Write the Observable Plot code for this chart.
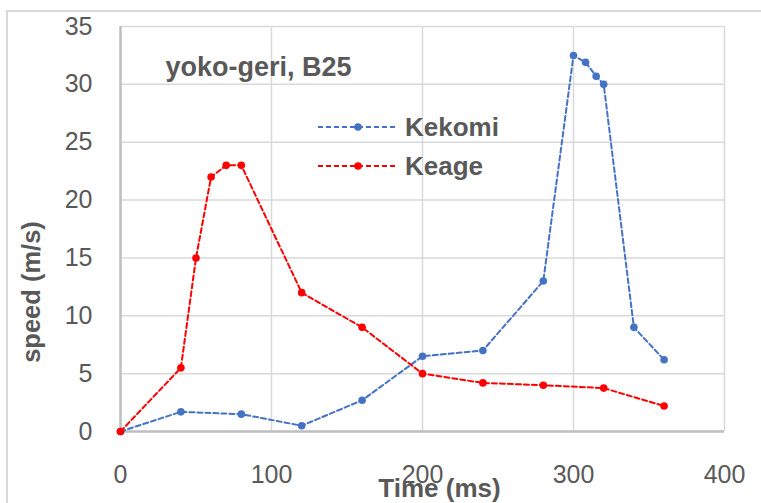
<!DOCTYPE html>
<html>
<head>
<meta charset="utf-8">
<script src="https://cdn.jsdelivr.net/npm/d3@7"></script>
<script src="https://cdn.jsdelivr.net/npm/@observablehq/plot@0.6"></script>
<style>
  html, body { margin: 0; padding: 0; background: #fff; }
  #chart svg { display: block; }
</style>
</head>
<body>
<div id="chart"></div>
<script>
// Foot speed over time for two yoko-geri variants (subject B25)
const kekomiTime  = [0, 40, 80, 120, 160, 200, 240, 280, 300, 308, 315, 320, 340, 360];
const kekomiSpeed = [0, 1.7, 1.5, 0.5, 2.7, 6.5, 7.0, 13.0, 32.5, 31.9, 30.7, 30.0, 9.0, 6.2];

const keageTime  = [0, 40, 50, 60, 70, 80, 120, 160, 200, 240, 280, 320, 360];
const keageSpeed = [0, 5.5, 15, 22, 23, 23, 12, 9, 5, 4.2, 4.0, 3.75, 2.2];

const xTicks = [0, 100, 200, 300, 400];
const yTicks = [0, 5, 10, 15, 20, 25, 30, 35];

const seriesNames = ["Kekomi", "Keage"];
const seriesColors = ["#4472C4", "#FF0000"];

const chartTitle = "yoko-geri, B25";
const xLabel = "Time (ms)";
const yLabel = "speed (m/s)";

const kekomi = kekomiTime.map((t, i) => ({time: t, speed: kekomiSpeed[i]}));
const keage = keageTime.map((t, i) => ({time: t, speed: keageSpeed[i]}));

const FONT = "'Liberation Sans', Arial, sans-serif";
const TEXT = "#595959";
const DASH = "5,3";
const R = 3.8;

// Outer chart-area border behind everything
function chartBorder(index, scales, values, dims) {
  const g = d3.create("svg:g");
  g.append("rect")
    .attr("x", 7).attr("y", 11)
    .attr("width", dims.width).attr("height", dims.height)
    .attr("fill", "none").attr("stroke", "#d9d9d9").attr("stroke-width", 2);
  return g.node();
}

// In-plot legend: dashed sample line with a dot, then the series name
function legend(index, scales, values, dims) {
  const g = d3.create("svg:g");
  const x0 = dims.marginLeft + 198, x1 = dims.marginLeft + 275, xm = dims.marginLeft + 238;
  const rows = [dims.marginTop + 101, dims.marginTop + 140];
  seriesNames.forEach((name, i) => {
    const y = rows[i];
    g.append("line")
      .attr("x1", x0).attr("x2", x1).attr("y1", y).attr("y2", y)
      .attr("stroke", seriesColors[i]).attr("stroke-width", 2).attr("stroke-dasharray", DASH);
    g.append("circle").attr("cx", xm).attr("cy", y).attr("r", R).attr("fill", seriesColors[i]);
    g.append("text")
      .attr("x", dims.marginLeft + 285).attr("y", y).attr("dy", "0.35em")
      .attr("text-anchor", "start")
      .attr("font-family", FONT).attr("font-size", 26).attr("font-weight", "bold")
      .attr("fill", TEXT).text(name);
  });
  return g.node();
}

const chart = Plot.plot({
  width: 761,
  height: 503,
  marginLeft: 120,
  marginRight: 37,
  marginTop: 26,
  marginBottom: 72,
  style: {fontFamily: FONT, background: "#fff"},
  x: {domain: [0, 400]},
  y: {domain: [0, 35]},
  marks: [
    chartBorder,
    Plot.gridX(xTicks, {stroke: "#d9d9d9", strokeOpacity: 1, strokeWidth: 1.5}),
    Plot.gridY(yTicks, {stroke: "#d9d9d9", strokeOpacity: 1, strokeWidth: 1.5}),
    Plot.ruleX([0], {stroke: "#bfbfbf", strokeWidth: 2.5}),
    Plot.ruleY([0], {stroke: "#bfbfbf", strokeWidth: 2.5}),
    Plot.axisX(xTicks, {tickSize: 0, tickPadding: 34, fontSize: 25, fill: TEXT, label: null}),
    Plot.axisY(yTicks, {tickSize: 0, tickPadding: 28, fontSize: 25, fill: TEXT, label: null}),
    Plot.line(kekomi, {x: "time", y: "speed", stroke: seriesColors[0], strokeWidth: 2, strokeDasharray: DASH}),
    Plot.dot(kekomi, {x: "time", y: "speed", fill: seriesColors[0], r: R}),
    Plot.line(keage, {x: "time", y: "speed", stroke: seriesColors[1], strokeWidth: 2, strokeDasharray: DASH}),
    Plot.dot(keage, {x: "time", y: "speed", fill: seriesColors[1], r: R}),
    Plot.text([chartTitle], {frameAnchor: "top-left", dx: 45, dy: 41, text: d => d,
      textAnchor: "start", lineAnchor: "middle",
      fontSize: 27, fontWeight: "bold", fill: TEXT}),
    Plot.text([yLabel], {frameAnchor: "left", dx: -89, dy: 63, rotate: -90, text: d => d,
      textAnchor: "middle", lineAnchor: "middle",
      fontSize: 25.5, fontWeight: "bold", fill: TEXT}),
    Plot.text([xLabel], {frameAnchor: "bottom", dx: 17, dy: 57, text: d => d,
      textAnchor: "middle", lineAnchor: "middle",
      fontSize: 26, fontWeight: "bold", fill: TEXT}),
    legend
  ]
});

document.getElementById("chart").append(chart);
</script>
</body>
</html>
